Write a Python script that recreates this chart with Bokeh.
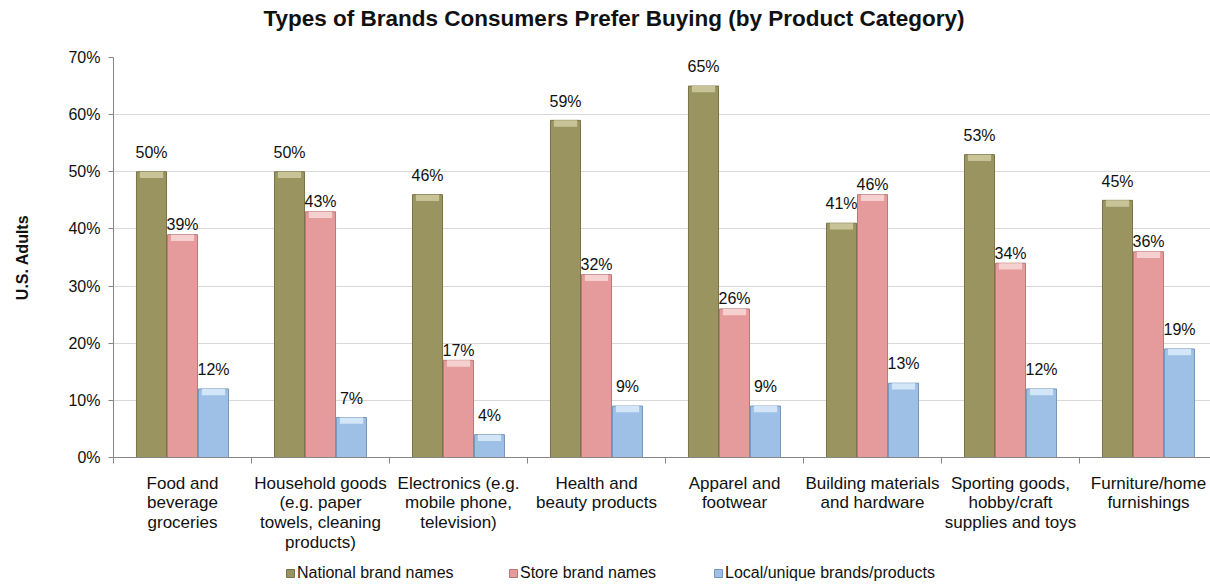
from bokeh.plotting import figure
from bokeh.layouts import column
from bokeh.models import (ColumnDataSource, Range1d, FixedTicker, PrintfTickFormatter,
                          Legend, LegendItem, Label)
from bokeh.core.properties import value
from bokeh.embed import file_html
from bokeh.resources import INLINE

categories = [
    "Food and\nbeverage\ngroceries",
    "Household goods\n(e.g. paper\ntowels, cleaning\nproducts)",
    "Electronics (e.g.\nmobile phone,\ntelevision)",
    "Health and\nbeauty products",
    "Apparel and\nfootwear",
    "Building materials\nand hardware",
    "Sporting goods,\nhobby/craft\nsupplies and toys",
    "Furniture/home\nfurnishings",
]
series_names = ["National brand names", "Store brand names", "Local/unique brands/products"]
national = [50, 50, 46, 59, 65, 41, 53, 45]
store = [39, 43, 17, 32, 26, 46, 34, 36]
local = [12, 7, 4, 9, 9, 13, 12, 19]
y_ticks = [0, 10, 20, 30, 40, 50, 60, 70]
title_text = "Types of Brands Consumers Prefer Buying (by Product Category)"

FONT = "Liberation Sans"
fills = ["#9A9460", "#E59B9B", "#9EC0E6"]
edges = ["#777243", "#B97676", "#7596BC"]
caps = ["#C9C497", "#F6CFCF", "#D3E6F8"]
label_gap = [1.9, 0.3, 1.9]

W = 1210
HEAD_H, FOOT_H = 36, 28
MAIN_H = 586 - HEAD_H - FOOT_H
left = 113
top = 57 - HEAD_H
bottom = MAIN_H - top - 400
frame_w = W - left
group_px = 138.0
x_end = frame_w / group_px


def bare(h):
    f = figure(width=W, height=h, output_backend="svg", toolbar_location=None,
               x_range=Range1d(0, x_end), y_range=Range1d(100, 101),
               x_axis_type=None, y_axis_type=None,
               min_border_left=left, min_border_right=0, min_border_top=0,
               min_border_bottom=0, outline_line_color=None)
    f.xgrid.visible = False
    f.ygrid.visible = False
    f.border_fill_color = "white"
    f.background_fill_color = "white"
    return f


# header with title
head = bare(HEAD_H)
head.add_layout(Label(x=263 - left, y=HEAD_H - 18, x_units="screen", y_units="screen",
                      text=title_text, text_font=FONT,
                      text_font_size="22.5px", text_font_style="bold",
                      text_color="#111111", text_align="left", text_baseline="middle"))

# main chart
p = figure(width=W, height=MAIN_H, output_backend="svg", toolbar_location=None,
           x_range=Range1d(0, x_end), y_range=Range1d(0, 70),
           min_border_left=left, min_border_right=0, min_border_top=top,
           min_border_bottom=bottom, outline_line_color=None)
p.background_fill_color = "white"
p.border_fill_color = "white"

n = len(categories)
centers = [i + 0.5 for i in range(n)]
bw = 31.0 / group_px
offsets = [-bw, 0.0, bw]
all_series = [national, store, local]

sources = []
for k, vals in enumerate(all_series):
    xs = [c + offsets[k] for c in centers]
    src = ColumnDataSource(dict(x=xs, top=vals,
                                cap_bottom=[v - 1.1 for v in vals],
                                lab=[f"{v}%" for v in vals],
                                ly=[v + label_gap[k] for v in vals]))
    sources.append(src)
    p.vbar(x="x", top="top", bottom=0, width=bw * 0.97, source=src,
           fill_color=fills[k], line_color=edges[k], line_width=1)
    p.vbar(x="x", top="top", bottom="cap_bottom", width=bw * 0.75, source=src,
           fill_color=caps[k], line_color=None)
    p.text(x="x", y="ly", text="lab", source=src, text_align="center",
           text_baseline="bottom", text_font=value(FONT), text_font_size="16px",
           text_color="#111111")

p.xgrid.visible = False
p.ygrid.grid_line_color = "#D9D9D9"
p.ygrid.grid_line_width = 1
p.yaxis.ticker = FixedTicker(ticks=y_ticks)
p.yaxis.formatter = PrintfTickFormatter(format="%d%%")
p.yaxis.axis_line_color = "#868686"
p.yaxis.major_tick_line_color = "#868686"
p.yaxis.major_tick_out = 5
p.yaxis.major_tick_in = 0
p.yaxis.minor_tick_line_color = None
p.yaxis.major_label_standoff = 8
p.yaxis.major_label_text_font = FONT
p.yaxis.major_label_text_font_size = "16px"
p.yaxis.major_label_text_color = "#111111"
p.yaxis.axis_label = "U.S. Adults"
p.yaxis.axis_label_text_font = FONT
p.yaxis.axis_label_text_font_size = "16px"
p.yaxis.axis_label_text_font_style = "bold"
p.yaxis.axis_label_text_color = "#111111"
p.yaxis.axis_label_standoff = 34

p.xaxis.ticker = FixedTicker(ticks=centers, minor_ticks=[float(i) for i in range(n + 1)])
p.xaxis.major_label_overrides = {c: lab for c, lab in zip(centers, categories)}
p.xaxis.axis_line_color = "#868686"
p.xaxis.major_tick_line_color = None
p.xaxis.major_tick_out = 0
p.xaxis.major_tick_in = 0
p.xaxis.minor_tick_line_color = "#868686"
p.xaxis.minor_tick_out = 6
p.xaxis.minor_tick_in = 0
p.xaxis.major_label_standoff = 10
p.xaxis.major_label_text_font = FONT
p.xaxis.major_label_text_font_size = "17px"
p.xaxis.major_label_text_color = "#111111"
p.xaxis.major_label_text_line_height = 1.04

# footer with legend (legend glyphs reuse the series data; bars fall outside its range)
foot = bare(FOOT_H)
legend_x = [285, 508, 713]
for k in range(3):
    r = foot.vbar(x="x", top="top", bottom=0, width=bw, source=sources[k],
                  fill_color=fills[k], line_color=edges[k])
    lg = Legend(items=[LegendItem(label=series_names[k], renderers=[r])],
                location=(legend_x[k] - left, 4), glyph_width=10, glyph_height=10,
                label_standoff=2, padding=0, margin=0, label_height=16,
                border_line_color=None, background_fill_alpha=0,
                label_text_font=FONT, label_text_font_size="16px",
                label_text_color="#111111")
    foot.add_layout(lg, "center")

layout = column(head, p, foot, spacing=0)
open("out.html", "w").write(file_html(layout, INLINE))
